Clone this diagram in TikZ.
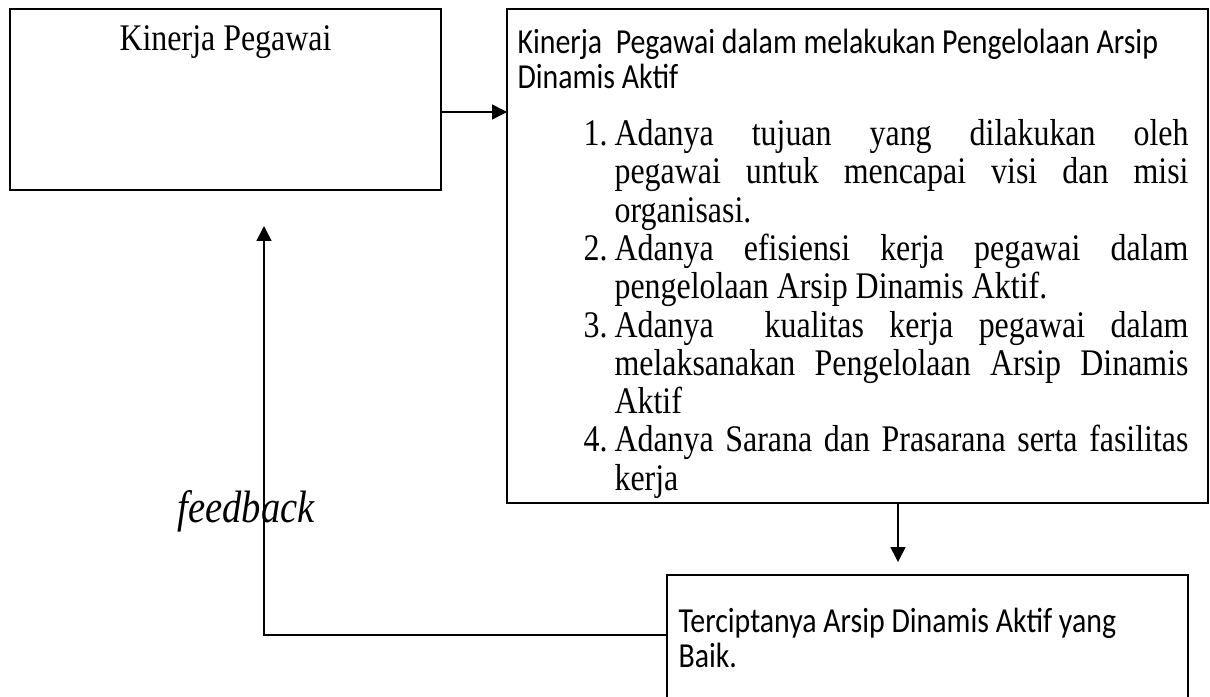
\documentclass[tikz,border=0pt]{standalone}
\usepackage{fontspec}
\setmainfont[FakeStretch=0.85]{Liberation Serif}
\newfontfamily\calibri[FakeStretch=0.85]{Carlito}
\usetikzlibrary{arrows.meta}

\newlength{\px}
\setlength{\px}{0.3759pt}
\newcommand{\labelkiri}[1]{#1\hfil}

\tikzset{
  kotak/.style={draw,line width=0.75pt,inner sep=0pt,outer sep=0pt,anchor=north west},
  panah/.style={line width=0.6pt,-{Triangle[length=5.6pt,width=5.6pt]}},
  teks/.style={anchor=base west,inner sep=0pt}
}

\begin{document}
\begin{tikzpicture}[x=\px,y=-\px]
\useasboundingbox (0,0) rectangle (1210,696);
\clip (0,0) rectangle (1210,696);

\node[kotak,minimum width=431\px,minimum height=181\px] (kinerja) at (10,9) {};
\node[anchor=base,inner sep=0pt,font=\fontsize{14.12}{17}\selectfont] (kinerjaJudul) at (225.5,50) {Kinerja Pegawai};

\node[kotak,minimum width=701\px,minimum height=494\px] (proses) at (507,9) {};
\node[teks,font=\calibri\fontsize{13.2}{13.16}\selectfont] (prosesJudul) at (517,53)
  {\begin{minipage}[t]{680\px}Kinerja~ Pegawai dalam melakukan Pengelolaan Arsip\\Dinamis Aktif\end{minipage}};
\node[teks,font=\fontsize{14.12}{14.4}\selectfont] (daftar) at (583,145.5) {%
  \begin{minipage}[t]{605\px}\hyphenpenalty=10000 \tolerance=10000
  \begin{list}{\arabic{enumi}.}{\usecounter{enumi}\setlength{\leftmargin}{31\px}%
    \setlength{\labelwidth}{31\px}\setlength{\labelsep}{0pt}\setlength{\itemsep}{0pt}%
    \setlength{\parsep}{0pt}\setlength{\topsep}{0pt}\setlength{\partopsep}{0pt}%
    \let\makelabel\labelkiri}
  \item Adanya tujuan yang dilakukan oleh\linebreak pegawai untuk mencapai visi dan misi\linebreak organisasi.
  \item Adanya efisiensi kerja pegawai dalam\linebreak pengelolaan Arsip Dinamis Aktif.
  \item Adanya~ kualitas kerja pegawai dalam\linebreak melaksanakan Pengelolaan Arsip Dinamis\linebreak Aktif
  \item Adanya Sarana dan Prasarana serta fasilitas\linebreak kerja
  \end{list}
  \end{minipage}};

\node[kotak,minimum width=521\px,minimum height=140\px] (hasil) at (667,575) {};
\node[teks,font=\calibri\fontsize{13.2}{13.16}\selectfont] (hasilTeks) at (678,632)
  {\begin{minipage}[t]{495\px}Terciptanya Arsip Dinamis Aktif yang\\Baik.\end{minipage}};

\node[anchor=base west,inner sep=0pt,font=\itshape\fontsize{17.06}{20}\selectfont] (umpan) at (177,522) {feedback};

\coordinate (keluarA) at ([yshift=-12.5\px]kinerja.east);
\draw[panah] (keluarA) -- (keluarA -| proses.west);
\coordinate (keluarB) at ([xshift=40.5\px]proses.south);
\draw[panah,shorten >=13\px] (keluarB) -- (keluarB |- hasil.north);
\coordinate (keluarC) at ([yshift=-60\px]hasil.north west);
\coordinate (masukA) at ([xshift=38.5\px]kinerja.south);
\draw[panah,shorten >=36\px] (keluarC) -| (masukA);
\end{tikzpicture}
\end{document}
